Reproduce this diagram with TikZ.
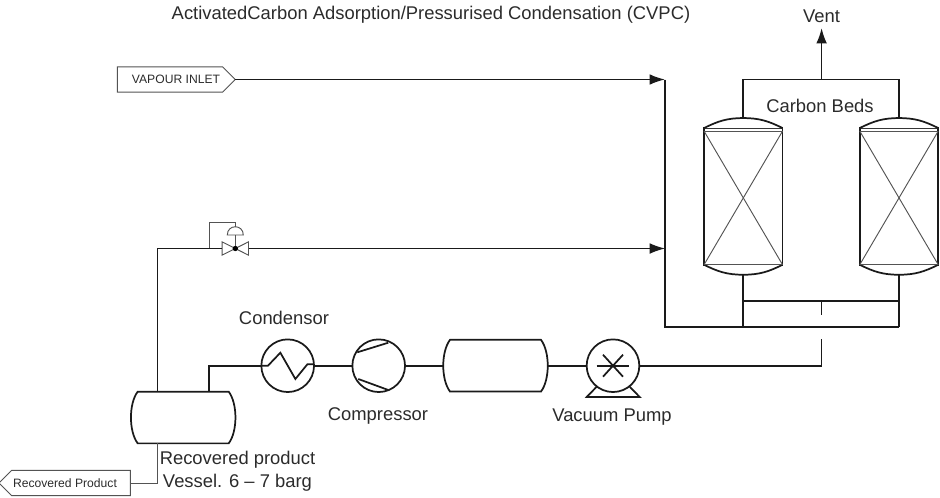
\documentclass[tikz,border=0pt]{standalone}
\usepackage{fontspec}
\setmainfont{Liberation Sans}
\usepackage{tikz}
\usetikzlibrary{positioning,arrows.meta,shapes.symbols,calc}
\definecolor{inkline}{HTML}{1A1A1A}
\definecolor{inktext}{HTML}{2B2B2B}
\tikzset{
  pipe/.style={line width=1.3pt, draw=inkline},
  thinline/.style={line width=0.7pt, draw=inkline!75},
  flow/.style={pipe, -{Latex[length=11.5pt, width=8pt]}},
  label/.style={font=\fontsize{13.8pt}{16.5pt}\selectfont, text=inktext, inner sep=0pt, align=center},
  taglabel/.style={font=\fontsize{9.1pt}{11pt}\selectfont, text=inktext, inner sep=0pt},
  unitcircle/.style={circle, draw=inkline, line width=1.3pt, minimum size=39.5pt, inner sep=0pt, outer sep=0pt},
  drum/.style={rectangle, inner sep=0pt, outer sep=0pt, minimum width=78.75pt, minimum height=38.8pt},
  bed/.style={rectangle, draw=inkline, line width=1.3pt, inner sep=0pt, outer sep=0pt, minimum width=58.9pt, minimum height=102.5pt},
  tag/.style={signal, signal to=east, draw=inkline!75, line width=0.7pt, inner sep=0pt, outer sep=0pt, minimum height=19pt}
}

\begin{document}
\begin{tikzpicture}[x=0.75pt, y=-0.75pt]
\useasboundingbox (0,0) rectangle (940,497);

% text labels
\node[label] (title) at (431,15) {ActivatedCarbon Adsorption/Pressurised Condensation (CVPC)};
\node[label] (ventlabel) at (821.5,16) {Vent};
\node[label] (bedslabel) at (820,106) {Carbon Beds};
\node[label] (condlabel) at (284,318) {Condensor};
\node[label] (complabel) at (378,416) {Compressor};
\node[label] (pumplabel) at (612,417) {Vacuum Pump};
\node[label] (vessellabel) at (237.5,471.5) {Recovered product\\[0.75pt]Vessel. 6 -- 7 barg};

% off-page tags
\node[tag, minimum width=88.5pt] (vapour) at (170,79.5) {};
\node[taglabel] (vapourtext) at (176,79.5) {VAPOUR INLET};
\node[tag, signal to=west, minimum width=98.5pt] (product) at (71,483) {};
\node[taglabel] (producttext) at (65,483) {Recovered Product};

% equipment on the bottom line
\node[unitcircle] (condensor) at (287.7,365.7) {};
\node[unitcircle] (compressor) at (378.7,365.7) {};
\node[unitcircle] (pump) at (613,365.7) {};
\node[drum] (buffer) at (495.5,365.7) {};
\node[drum] (receiver) at (183.2,417.5) {};
\node[bed] (bedleft) at (743.3,196.4) {};
\node[bed] (bedright) at (899,196.4) {};

% vessel outlines
\foreach \n in {buffer,receiver} {
  \draw[pipe] ($(\n.north west)+(7,0)$) -- ($(\n.north east)+(-7,0)$)
    .. controls +(9,12) and +(9,-12) .. ($(\n.south east)+(-7,0)$)
    -- ($(\n.south west)+(7,0)$)
    .. controls +(-9,-12) and +(-9,12) .. cycle;
}

% bed heads and packing crosses
\foreach \n in {bedleft,bedright} {
  \coordinate (\n top) at ($(\n.north)+(0,-10)$);
  \coordinate (\n bot) at ($(\n.south)+(0,10)$);
  \draw[pipe, fill=white] (\n.north west) .. controls +(14,-7) and +(-16,0) .. (\n top)
    .. controls +(16,0) and +(-14,-7) .. (\n.north east);
  \draw[pipe, fill=white] (\n.south west) .. controls +(14,7) and +(-16,0) .. (\n bot)
    .. controls +(16,0) and +(-14,7) .. (\n.south east);
  \draw[thinline] ($(\n.north west)+(0,3)$) -- ($(\n.north east)+(0,3)$);
  \draw[thinline] (\n.south west) -- (\n.south east);
  \draw[thinline] ($(\n.north west)+(0,3)$) -- (\n.south east);
  \draw[thinline] ($(\n.north east)+(0,3)$) -- (\n.south west);
}

% condensor coil
\draw[pipe] (condensor.west) -- ++(6.6,0) -- ++(12.4,-13) -- ++(15,26.3) -- ++(12,-14.7) -- ++(6.3,0);

% compressor blades
\draw[pipe] (357.3,352.3) -- (388.3,342.7);
\draw[pipe] (358.3,379) -- (388.3,390);

% pump cross and feet
\draw[pipe] ($(pump)+(-16.3,0)$) -- ($(pump)+(16.3,0)$);
\draw[pipe] ($(pump)+(-10,-11)$) -- ($(pump)+(10,11)$);
\draw[pipe] ($(pump)+(10,-11)$) -- ($(pump)+(-10,11)$);
\draw[pipe] ($(pump)+(-16.3,21)$) -- ($(pump)+(-26.3,31.3)$) -- ($(pump)+(26.7,31.3)$) -- ($(pump)+(16.7,21)$);

% control valve
\node[rectangle, inner sep=0pt, outer sep=0pt, minimum width=19.8pt, minimum height=10pt] (valve) at (235.3,248.5) {};
\draw[thinline] (valve.north west) -- (valve.south east) -- (valve.north east) -- (valve.south west) -- cycle;
\node[circle, fill=black, inner sep=0pt, minimum size=4pt] (plug) at (valve) {};
\coordinate (actuator) at (235.3,235);
\draw[thinline] (plug) -- (actuator);
\draw[thinline] ($(actuator)+(-8,0)$) .. controls +(0,-11) and +(0,-11) .. ($(actuator)+(8,0)$) -- cycle;
\coordinate (sensetop) at (235.3,222.3);
\coordinate (sensetap) at (209,248.5);
\draw[thinline] ($(actuator)+(0,-8.2)$) -- (sensetop) -| (sensetap);

% main pipework
\coordinate (bedinlet) at (665,79.5);
\coordinate (purgeinlet) at (665,248.5);
\coordinate (manifold) at (665,326.7);
\coordinate (rightend) at (899,326.7);
\draw[flow] (vapour.east) -- (bedinlet);
\draw[pipe] (bedinlet) -- (manifold) -- (rightend);
\draw[flow, line width=0.85pt] (valve.east) -- (purgeinlet);
\draw[pipe, line width=0.85pt] (receiver.north -| 157.3,0) |- (valve.west);

% vent header
\coordinate (ventjoin) at (821.6,79.5);
\coordinate (ventend) at (821.6,28);
\draw[pipe] (bedlefttop) |- (ventjoin) -| (bedrighttop);
\draw[flow] (ventjoin) -- (ventend);

% bed bottoms
\coordinate (crossleft) at (743.3,300.7);
\coordinate (crossright) at (899,300.7);
\coordinate (crossmid) at (821.6,300.7);
\coordinate (stubend) at (821.6,315);
\coordinate (returntop) at (821.6,339);
\coordinate (returncorner) at (821.6,365.7);
\draw[pipe] (bedleftbot) -- (743.3,326.7);
\draw[pipe] (bedrightbot) -- (rightend);
\draw[pipe] (crossleft) -- (crossright);
\draw[pipe] (crossmid) -- (stubend);

% bottom line back to the receiver
\draw[pipe] (returntop) -- (returncorner) -- (pump.east);
\draw[pipe] (pump.west) -- (buffer.east);
\draw[pipe] (buffer.west) -- (compressor.east);
\draw[pipe] (compressor.west) -- (condensor.east);
\coordinate (rcorner) at (209.3,365.7);
\draw[pipe] (condensor.west) -- (rcorner) -- (receiver.north -| rcorner);
\coordinate (rdrop) at (157.3,483);
\draw[thinline] (receiver.south -| rdrop) -- (rdrop) -- (product.east);

\end{tikzpicture}
\end{document}
